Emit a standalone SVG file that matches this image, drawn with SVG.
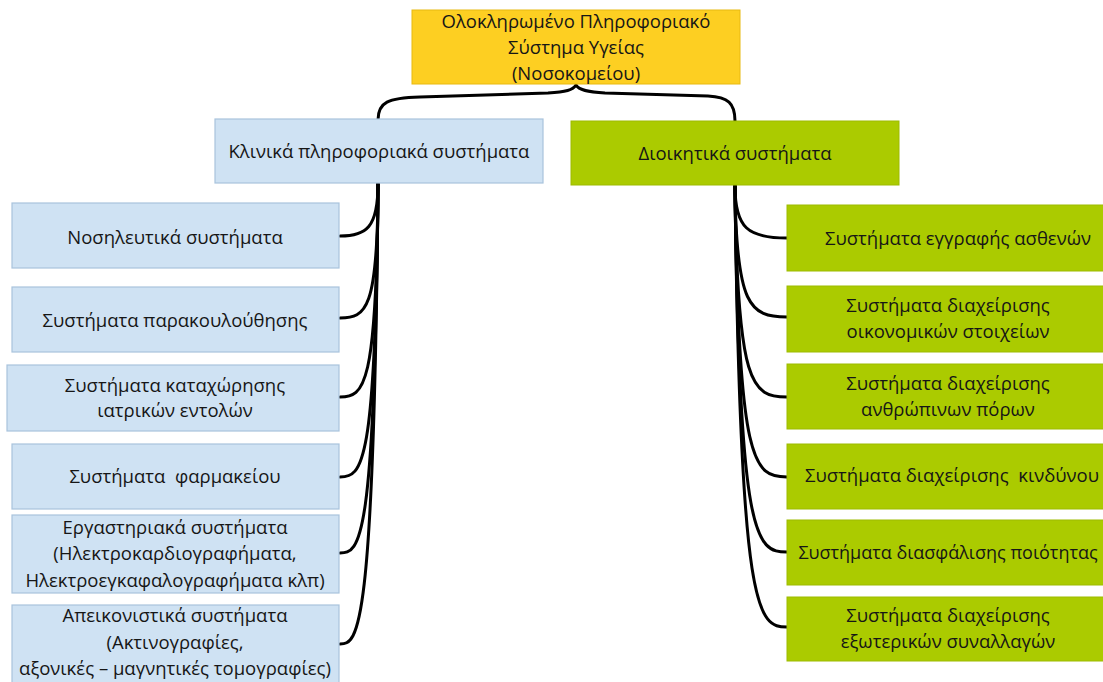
<svg xmlns="http://www.w3.org/2000/svg" width="1103" height="682" viewBox="0 0 1103 682">
<style>
.t{font-family:"Open Sans","Noto Sans","DejaVu Sans",sans-serif;font-size:18.5px;fill:#161616;text-anchor:middle}
.blue{fill:#cfe2f3;stroke:#a9c3dd;stroke-width:1.2}
.green{fill:#abcb00;stroke:#9dbb00;stroke-width:1}
.yellow{fill:#fdcf22;stroke:#e8b910;stroke-width:1}
.c{fill:none;stroke:#000;stroke-width:3;stroke-linecap:round}
</style>
<rect width="1103" height="682" fill="#fff"/>
<g id="connectors">
<path class="c" d="M378,120 C378,102 388,98 420,97 L548,93 C566,92 573,90 576,85 C579,90 587,92 605,93 L708,96 C728,97 735,103 735,121"/>
<path class="c" d="M378,184 C378,228 366,236 340,236"/>
<path class="c" d="M378,184 C378,310 366,318 340,318"/>
<path class="c" d="M378,184 C377,388 364,397 340,397"/>
<path class="c" d="M378,184 C376,468 362,477 340,477"/>
<path class="c" d="M378,184 C375,545 360,553 340,553"/>
<path class="c" d="M378,184 C374,636 358,644 340,644"/>
<path class="c" d="M735,186 C735,228 748,238 787,238"/>
<path class="c" d="M735,186 C736,306 750,317 787,317"/>
<path class="c" d="M735,186 C737,386 752,397 787,397"/>
<path class="c" d="M735,186 C738,466 754,477 787,477"/>
<path class="c" d="M735,186 C739,542 756,552 787,552"/>
<path class="c" d="M735,186 C740,617 758,627 787,627"/>
</g>
<g id="root">
<rect class="yellow" x="412" y="10" width="328" height="74"/>
<text class="t" x="576" y="28">Ολοκληρωμένο Πληροφοριακό</text>
<text class="t" x="576" y="54">Σύστημα Υγείας</text>
<text class="t" x="576" y="80">(Νοσοκομείου)</text>
</g>
<g id="clinical">
<rect class="blue" x="215" y="119" width="328" height="64"/>
<text class="t" x="379" y="158">Κλινικά πληροφοριακά συστήματα</text>
</g>
<g id="admin">
<rect class="green" x="571" y="121" width="328" height="64"/>
<text class="t" x="735" y="160">Διοικητικά συστήματα</text>
</g>
<g id="l1">
<rect class="blue" x="12" y="203" width="327" height="65"/>
<text class="t" x="175" y="244">Νοσηλευτικά συστήματα</text>
</g>
<g id="l2">
<rect class="blue" x="12" y="287" width="327" height="65"/>
<text class="t" x="175" y="327">Συστήματα παρακουλούθησης</text>
</g>
<g id="l3">
<rect class="blue" x="7" y="365" width="332" height="66"/>
<text class="t" x="175" y="392">Συστήματα καταχώρησης</text>
<text class="t" x="175" y="417">ιατρικών εντολών</text>
</g>
<g id="l4">
<rect class="blue" x="12" y="444" width="327" height="65"/>
<text class="t" x="175" y="483" xml:space="preserve">Συστήματα  φαρμακείου</text>
</g>
<g id="l5">
<rect class="blue" x="12" y="515" width="327" height="78"/>
<text class="t" x="175" y="534">Εργαστηριακά συστήματα</text>
<text class="t" x="175" y="560">(Ηλεκτροκαρδιογραφήματα,</text>
<text class="t" x="175" y="587">Ηλεκτροεγκαφαλογραφήματα κλπ)</text>
</g>
<g id="l6">
<rect class="blue" x="12" y="605" width="327" height="85"/>
<text class="t" x="175" y="622">Απεικονιστικά συστήματα</text>
<text class="t" x="175" y="649">(Ακτινογραφίες,</text>
<text class="t" x="175" y="675">αξονικές – μαγνητικές τομογραφίες)</text>
</g>
<g id="r1">
<rect class="green" x="787" y="205" width="325" height="66"/>
<text class="t" x="958" y="245">Συστήματα εγγραφής ασθενών</text>
</g>
<g id="r2">
<rect class="green" x="787" y="286" width="325" height="66"/>
<text class="t" x="948" y="312">Συστήματα διαχείρισης</text>
<text class="t" x="948" y="338">οικονομικών στοιχείων</text>
</g>
<g id="r3">
<rect class="green" x="787" y="364" width="325" height="65"/>
<text class="t" x="948" y="390">Συστήματα διαχείρισης</text>
<text class="t" x="948" y="416">ανθρώπινων πόρων</text>
</g>
<g id="r4">
<rect class="green" x="787" y="444" width="325" height="65"/>
<text class="t" x="952" y="482" xml:space="preserve">Συστήματα διαχείρισης  κινδύνου</text>
</g>
<g id="r5">
<rect class="green" x="787" y="520" width="325" height="65"/>
<text class="t" x="948" y="559" style="font-size:18px">Συστήματα διασφάλισης ποιότητας</text>
</g>
<g id="r6">
<rect class="green" x="787" y="597" width="325" height="64"/>
<text class="t" x="948" y="622">Συστήματα διαχείρισης</text>
<text class="t" x="948" y="648">εξωτερικών συναλλαγών</text>
</g>
</svg>
